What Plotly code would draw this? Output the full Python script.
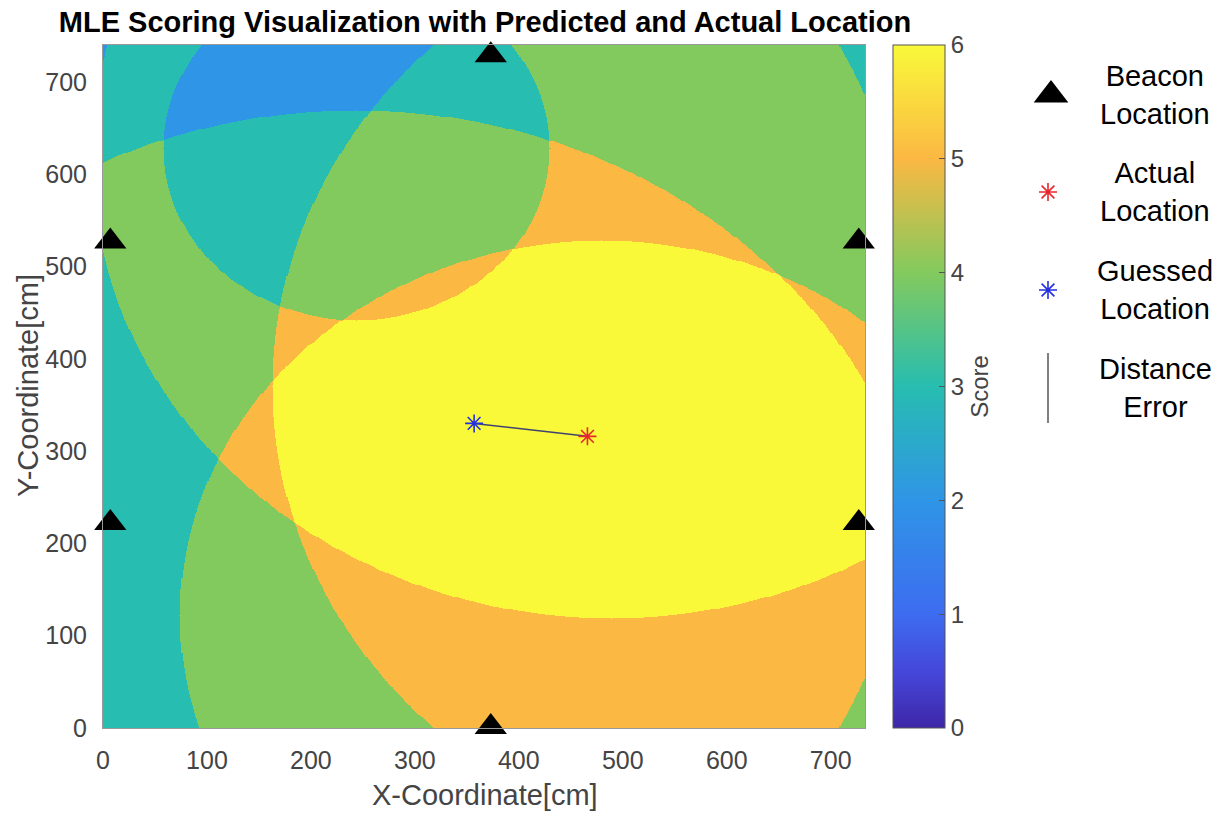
import numpy as np
import plotly.graph_objects as go

# ---------------- data ----------------
beacon_x = [7, 7, 373, 373, 727, 727]
beacon_y = [527, 222, 729, 1, 527, 222]
actual_x = [466]
actual_y = [316]
guess_x = [357]
guess_y = [330]

# scoring circles (centre, radius, and whether being inside adds one point)
circle_cx = [244, 243, 682, 489, 480, -16]
circle_cy = [628, 114, 370, 619, 122, 370]
circle_r = [186, 555, 519, 500, 406, 813]
circle_inside = [False, True, True, True, True, True]

grid_x = np.arange(0, 734, 1.0)
grid_y = np.arange(0, 741, 1.0)

x_ticks = [0, 100, 200, 300, 400, 500, 600, 700]
y_ticks = [0, 100, 200, 300, 400, 500, 600, 700]
score_ticks = [0, 1, 2, 3, 4, 5, 6]

# ---------------- score field ----------------
GX, GY = np.meshgrid(grid_x, grid_y)
score = np.zeros(GX.shape, dtype=np.int8)
for cx, cy, r, ins in zip(circle_cx, circle_cy, circle_r, circle_inside):
    inside = (GX - cx) ** 2 + (GY - cy) ** 2 <= r * r
    score += (inside if ins else ~inside).astype(np.int8)

W, H = 1226, 813
def px(x):
    return x / W
def py(y):
    return 1 - y / H

colorscale = [
    [0.0, '#3E26A8'],
    [0.08, '#4546D9'],
    [1 / 6, '#3D6CF0'],
    [2 / 6, '#2F95E6'],
    [3 / 6, '#27BDB0'],
    [4 / 6, '#83CA5E'],
    [5 / 6, '#FBB843'],
    [1.0, '#F9F93A'],
]

narrow = 'Liberation Sans Narrow, Arial Narrow, Liberation Sans, Arial, sans-serif'
regular = 'Liberation Sans, Arial, sans-serif'

fig = go.Figure()
fig.add_trace(go.Heatmap(
    x=grid_x, y=grid_y, z=score, zmin=0, zmax=6, zsmooth=False,
    colorscale=colorscale, hoverinfo='skip',
    colorbar=dict(
        x=px(893), xanchor='left', xref='paper',
        y=py(386.5), yanchor='middle', yref='paper',
        len=(728 - 45) / H, lenmode='fraction', ypad=0, xpad=0,
        thickness=52, thicknessmode='pixels',
        outlinecolor='#555555', outlinewidth=1,
        tickvals=score_ticks, ticks='inside', ticklen=6, tickcolor='#555555',
        tickfont=dict(family=regular, size=24, color='#444444'),
        title=dict(text='Score', side='right',
                   font=dict(family=regular, size=24, color='#444444')),
    ),
))

line_color = '#3F4270'
red = '#E8262B'
blue = '#2430E0'
fig.add_trace(go.Scatter(
    x=[guess_x[0], actual_x[0]], y=[guess_y[0], actual_y[0]],
    mode='lines', line=dict(color=line_color, width=1.5),
    showlegend=False, hoverinfo='skip'))
fig.add_trace(go.Scatter(
    x=beacon_x, y=beacon_y, mode='markers', cliponaxis=False,
    marker=dict(symbol='triangle-up', size=28, color='black'),
    showlegend=False))
fig.add_trace(go.Scatter(
    x=actual_x, y=actual_y, mode='markers', cliponaxis=False,
    marker=dict(symbol='asterisk-open', size=15, color=red,
                line=dict(color=red, width=1.6)),
    showlegend=False))
fig.add_trace(go.Scatter(
    x=guess_x, y=guess_y, mode='markers', cliponaxis=False,
    marker=dict(symbol='asterisk-open', size=15, color=blue,
                line=dict(color=blue, width=1.6)),
    showlegend=False))

# ---------------- manual legend (pixel overlay axes in the right margin) ----------------
leg_x = 1048
fig.add_trace(go.Scatter(x=[leg_x + 3], y=[95], xaxis='x2', yaxis='y2', mode='markers',
                         marker=dict(symbol='triangle-up', size=30, color='black'),
                         showlegend=False, hoverinfo='skip'))
fig.add_trace(go.Scatter(x=[leg_x], y=[192], xaxis='x2', yaxis='y2', mode='markers',
                         marker=dict(symbol='asterisk-open', size=15, color=red,
                                     line=dict(color=red, width=1.6)),
                         showlegend=False, hoverinfo='skip'))
fig.add_trace(go.Scatter(x=[leg_x], y=[290], xaxis='x2', yaxis='y2', mode='markers',
                         marker=dict(symbol='asterisk-open', size=15, color=blue,
                                     line=dict(color=blue, width=1.6)),
                         showlegend=False, hoverinfo='skip'))
fig.add_trace(go.Scatter(x=[leg_x, leg_x], y=[353, 423], xaxis='x2', yaxis='y2', mode='lines',
                         line=dict(color='#555555', width=1.5),
                         showlegend=False, hoverinfo='skip'))

legend_texts = ['Beacon<br>Location', 'Actual<br>Location', 'Guessed<br>Location', 'Distance<br>Error']
legend_ys = [95, 192, 290, 388]
annotations = []
for t, yy in zip(legend_texts, legend_ys):
    annotations.append(dict(text=t, x=px(1155), y=py(yy), xref='paper', yref='paper',
                            xanchor='center', yanchor='middle', showarrow=False, align='center',
                            font=dict(family=regular, size=29, color='black')))
# axis titles
annotations.append(dict(text='X-Coordinate[cm]', x=px(485), y=py(795), xref='paper', yref='paper',
                        xanchor='center', yanchor='middle', showarrow=False,
                        font=dict(family=narrow, size=29, color='#444444')))
annotations.append(dict(text='Y-Coordinate[cm]', x=px(28), y=py(386), xref='paper', yref='paper',
                        xanchor='center', yanchor='middle', showarrow=False, textangle=-90,
                        font=dict(family=narrow, size=29, color='#444444')))

leg_left = 1000
fig.update_layout(
    width=W, height=H,
    margin=dict(l=0, r=0, t=0, b=0, autoexpand=False),
    paper_bgcolor='white', plot_bgcolor='rgba(0,0,0,0)',
    title=dict(text='<b>MLE Scoring Visualization with Predicted and Actual Location</b>',
               x=px(485), y=py(22), xanchor='center', yanchor='middle', xref='paper', yref='paper',
               automargin=False,
               font=dict(family=narrow, size=29, color='black')),
    xaxis=dict(domain=[px(103), px(865)], range=[0, 733], tickvals=x_ticks, automargin=False,
               showgrid=False, zeroline=False, ticks='', ticklabelstandoff=10,
               showline=True, linecolor='#999999', linewidth=1, mirror=True,
               tickfont=dict(family=narrow, size=25, color='#444444')),
    yaxis=dict(domain=[1 - 728 / H, 1 - 45 / H], range=[0, 740], tickvals=y_ticks, automargin=False,
               showgrid=False, zeroline=False, ticks='', ticklabelstandoff=10,
               showline=True, linecolor='#999999', linewidth=1, mirror=True,
               tickfont=dict(family=narrow, size=25, color='#444444')),
    xaxis2=dict(domain=[px(leg_left), 1], range=[leg_left, W], visible=False,
                fixedrange=True, anchor='y2', automargin=False),
    yaxis2=dict(domain=[0, 1], range=[H, 0], visible=False, fixedrange=True, anchor='x2',
                automargin=False),
    annotations=annotations,
)

fig.write_html('out.html', config={'displayModeBar': False},
               post_script="document.body.style.margin='0';document.body.style.overflow='hidden';")
